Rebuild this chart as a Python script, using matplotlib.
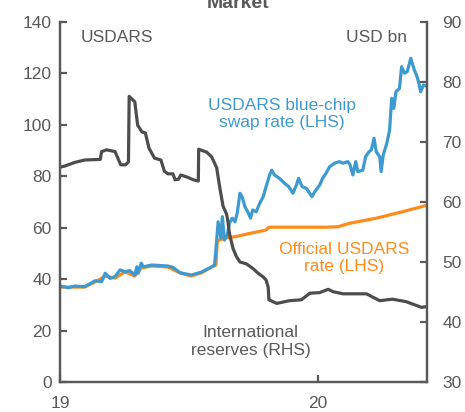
import pandas as pd
import matplotlib
matplotlib.use('Agg')
import matplotlib.pyplot as plt

plt.rcParams['font.family'] = ['Liberation Sans', 'DejaVu Sans']

START = pd.Timestamp('2019-01-01')

# blue-chip swap rate (USDARS, LHS) - days since 1 Jan 2019
blue_dias = [0, 12, 21, 35, 50, 59, 64, 71, 78, 85, 92, 99, 106, 109, 111, 115,
             118, 130, 153, 160, 170, 186, 200, 215, 219, 222, 224, 228, 230,
             233, 237, 240, 244, 248, 251, 255, 258, 262, 266, 270, 273, 278,
             283, 288, 292, 297, 300, 304, 311, 318, 324, 330, 335, 338, 343,
             349, 357, 361, 368, 372, 377, 382, 389, 396, 401, 408, 411, 415,
             419, 422, 429, 433, 438, 441, 445, 448, 453, 455, 458, 463, 467,
             470, 473, 476, 481, 484, 488, 492, 497, 502, 505, 508, 511, 515,
             521]
blue_valores = [37.3, 36.7, 37.3, 37.1, 39.4, 39.0, 42.3, 40.3, 41.0, 43.6, 42.9,
                43.3, 41.6, 44.8, 42.3, 46.2, 44.8, 45.5, 45.1, 44.6, 42.5, 41.6,
                42.7, 44.8, 45.5, 55.2, 62.3, 55.9, 64.3, 55.2, 57.2, 61.7, 63.7,
                62.3, 65.6, 73.4, 72.1, 68.2, 66.2, 63.7, 66.9, 66.2, 69.5, 72.1,
                76.0, 80.5, 82.4, 80.5, 79.2, 77.3, 76.0, 73.4, 76.6, 79.2, 76.0,
                75.3, 72.1, 74.0, 76.6, 79.2, 81.2, 83.7, 85.1, 85.7, 85.1, 85.7,
                84.4, 80.5, 85.7, 81.8, 82.4, 87.6, 89.6, 90.2, 94.8, 89.6, 87.6,
                81.8, 88.3, 92.8, 98.0, 110.3, 106.4, 112.9, 114.2, 122.6, 120.1,
                120.7, 125.9, 121.3, 119.4, 116.8, 112.9, 115.5, 114.8]

# official rate (USDARS, LHS)
oficial_dias = [0, 21, 35, 50, 64, 78, 92, 106, 115, 130, 153, 170, 186, 200,
                215, 221, 223, 226, 233, 248, 269, 292, 296, 330, 377, 394, 410,
                448, 485, 521]
oficial_valores = [36.9, 36.9, 36.9, 38.9, 41.2, 40.4, 42.8, 41.2, 44.3, 45.1,
                   44.7, 42.4, 41.2, 42.4, 44.7, 45.5, 55.2, 55.2, 55.9, 56.5,
                   57.8, 59.1, 60.2, 60.2, 60.2, 60.4, 61.7, 63.7, 66.2, 68.8]

# international reserves (USD bn, RHS)
reservas_dias = [0, 7, 21, 35, 57, 59, 66, 78, 86, 93, 97, 98, 106, 110, 116,
                 121, 126, 134, 143, 148, 153, 160, 163, 168, 171, 179, 189, 196,
                 196.5, 208, 215, 222, 226, 231, 236, 238, 240, 245, 250, 255,
                 264, 273, 281, 288, 292, 295, 296, 307, 325, 342, 354, 368, 380,
                 387, 401, 434, 453, 471, 490, 504, 512, 519]
reservas_valores = [65.8, 66.0, 66.6, 67.0, 67.1, 68.4, 68.7, 68.4, 66.2, 66.2,
                    66.7, 77.6, 76.7, 72.8, 71.7, 71.5, 69.0, 67.3, 67.0, 65.1,
                    64.7, 64.7, 63.7, 63.8, 64.5, 64.2, 63.7, 63.5, 68.8, 68.3,
                    67.5, 65.7, 62.7, 59.3, 58.0, 56.7, 54.8, 52.3, 50.9, 50.0,
                    49.7, 48.95, 48.1, 47.5, 47.0, 45.8, 43.7, 43.1, 43.55, 43.7,
                    44.8, 44.9, 45.45, 45.05, 44.7, 44.7, 43.55, 43.8, 43.4, 42.8,
                    42.45, 42.55]

ticks_x = ['2019-01-01', '2020-01-01']
rotulos_x = ['19', '20']


def datas(dias):
    return START + pd.to_timedelta(dias, unit='D')


CINZA = '#595959'
AZUL = '#3d9ad1'
LARANJA = '#ff8c1a'
LINHA_CINZA = '#4d4d4d'

fig = plt.figure(figsize=(4.65, 4.12), dpi=100)
ax = fig.add_axes([60 / 465, 1 - 382 / 412, 367 / 465, 360 / 412])
ax2 = ax.twinx()

ax.plot(datas(oficial_dias), oficial_valores, color=LARANJA, lw=2.3)
ax.plot(datas(blue_dias), blue_valores, color=AZUL, lw=2.3)
ax2.plot(datas(reservas_dias), reservas_valores, color=LINHA_CINZA, lw=2.3)

ax.set_xlim(START, START + pd.Timedelta(days=520))
ax.set_ylim(0, 140)
ax2.set_ylim(30, 90)
ax.set_yticks(range(0, 141, 20))
ax2.set_yticks(range(30, 91, 10))
ax.set_xticks(pd.to_datetime(ticks_x))
ax.set_xticklabels(rotulos_x)

for a in (ax, ax2):
    a.spines['top'].set_visible(False)
    for lado in ('left', 'right', 'bottom'):
        a.spines[lado].set_color(CINZA)
        a.spines[lado].set_linewidth(1.6)
    a.tick_params(direction='in', length=5, width=1.6, color=CINZA,
                  labelcolor=CINZA, labelsize=12.5)
ax.tick_params(axis='y', pad=6)
ax2.tick_params(axis='y', pad=11)
ax.tick_params(axis='x', pad=10)

ax.text(0.055, 0.977, 'USDARS', transform=ax.transAxes, fontsize=12.5,
        color=CINZA, va='top', ha='left')
ax.text(0.945, 0.977, 'USD bn', transform=ax.transAxes, fontsize=12.5,
        color=CINZA, va='top', ha='right')
ax.text(0.605, 0.79, 'USDARS blue-chip\nswap rate (LHS)', transform=ax.transAxes,
        fontsize=12.5, color=AZUL, ha='center', va='top', linespacing=1.2)
ax.text(0.775, 0.39, 'Official USDARS\nrate (LHS)', transform=ax.transAxes,
        fontsize=12.5, color=LARANJA, ha='center', va='top', linespacing=1.2)
ax.text(0.52, 0.158, 'International\nreserves (RHS)', transform=ax.transAxes,
        fontsize=12.5, color=CINZA, ha='center', va='top', linespacing=1.2)

fig.text(0.512, 0.98, 'Market', fontsize=14, fontweight='bold', color=CINZA,
         ha='center', va='baseline')

fig.savefig('out.png', dpi=100)
